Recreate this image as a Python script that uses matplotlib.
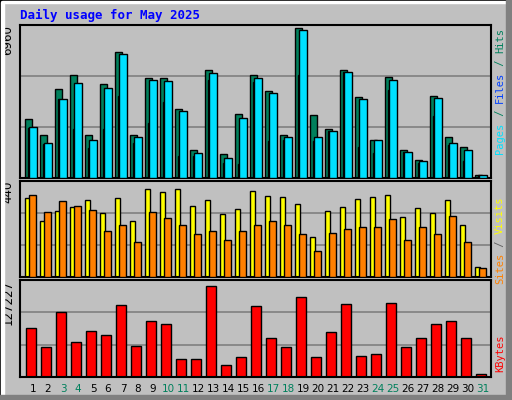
import matplotlib
matplotlib.use("Agg")
import matplotlib.pyplot as plt
from matplotlib.patches import Rectangle
import numpy as np

days = list(range(1, 32))
weekend = [3, 4, 10, 11, 17, 18, 24, 25, 31]
hits = [2690,1950,4080,4690,1950,4320,5750,1950,4590,4550,3160,1300,4960,1110,2920,4730,
        3990,1950,6870,2880,2230,4960,3710,1760,4640,1300,840,3760,1860,1440,140]
files = [2320,1580,3620,4360,1760,4130,5660,1860,4500,4450,3060,1160,4780,930,2740,4590,
         3900,1860,6770,1860,2130,4830,3620,1720,4500,1210,790,3670,1620,1300,130]
pages = [2300,1560,3600,2230,1390,2230,3760,1620,2510,3480,1020,1020,4500,700,650,4410,
         1670,1720,4730,1670,2130,4830,1440,1160,4040,1210,700,2830,1530,790,120]
visits = [367,257,305,323,358,296,367,261,406,393,406,327,358,292,314,397,
          375,371,336,186,305,323,362,371,380,279,318,296,358,243,45]
sites = [380,301,353,327,309,213,243,164,301,274,243,199,213,173,213,243,
         257,243,199,120,204,221,230,230,270,173,230,199,283,164,41]
kbytes = [67500,40300,88700,48000,62900,57500,98300,41700,76500,72400,24900,24900,124100,16800,27600,96900,
          53400,41200,109100,27600,61600,99600,29000,31700,101000,41200,53400,72400,76500,53400,4500]
max_hits, max_visits, max_kb = 6960, 440, 127227

BG = "#C0C0C0"
fig = plt.figure(figsize=(5.12, 4.0), dpi=100, facecolor=BG)
fig.patches.append(Rectangle((0, 0), 1, 1, transform=fig.transFigure, fill=False, ec="black", lw=1.5))
fig.patches.append(Rectangle((0.004, 0.992), 0.99, 0.006, transform=fig.transFigure, color="white"))
fig.patches.append(Rectangle((0.002, 0.01), 0.006, 0.985, transform=fig.transFigure, color="white"))
fig.patches.append(Rectangle((0.0, 0.0), 1, 0.012, transform=fig.transFigure, color="#808080"))
fig.patches.append(Rectangle((0.988, 0.0), 0.012, 1, transform=fig.transFigure, color="#808080"))

fig.text(20/512, 1-15/400, "Daily usage for May 2025", color="#0000FF", fontsize=9,
         family="DejaVu Sans Mono", weight="bold", va="center", ha="left")

L, W = 20/512, 471/512
axes_pos = [(1-178/400, 153/400), (1-277/400, 96/400), (1-377/400, 97/400)]
x = np.arange(31)

def setup(ax, top, label):
    ax.set_facecolor(BG)
    ax.set_xlim(0, 31.4)
    ax.set_ylim(0, top)
    ax.set_xticks([]); ax.set_yticks([])
    for v in (top/3, 2*top/3):
        ax.axhline(v, color="#808080", lw=1.2, zorder=0)
    for s in ax.spines.values():
        s.set_color("black"); s.set_linewidth(1.5)
    ax.text(-0.012, 1.0, label, transform=ax.transAxes, rotation=90, ha="right", va="top",
            fontsize=8.5, family="DejaVu Sans")

kw = dict(align="edge", edgecolor="black", linewidth=1)
ax1 = fig.add_axes([L, axes_pos[0][0], W, axes_pos[0][1]])
setup(ax1, max_hits*1.005, "6960")
ax1.bar(x+0.33, hits, 0.47, color="#00805C", zorder=2, **kw)
ax1.bar(x+0.5, pages, 0.12, color="#0040FF", zorder=3, **kw)
ax1.bar(x+0.6, files, 0.53, color="#00E0FF", zorder=4, **kw)

ax2 = fig.add_axes([L, axes_pos[1][0], W, axes_pos[1][1]])
setup(ax2, max_visits*1.01, "440")
ax2.bar(x+0.35, visits, 0.3, color="#FFFF00", zorder=2, **kw)
ax2.bar(x+0.62, sites, 0.47, color="#FF8000", zorder=3, **kw)

ax3 = fig.add_axes([L, axes_pos[2][0], W, axes_pos[2][1]])
setup(ax3, max_kb*1.04, "127227")
ax3.bar(x+0.42, kbytes, 0.67, color="#FF0000", zorder=2, **kw)
for i, d in enumerate(days):
    ax3.text(i+0.87, -0.07, str(d), transform=ax3.get_xaxis_transform(), ha="center", va="top",
             fontsize=7.5, color="#00805C" if d in weekend else "black")

CH = 6.3 / 400  # char advance for 7.5pt mono at 100 dpi, in figure fraction

def right_label(parts, ytop):
    y = ytop
    for txt, col in parts:
        fig.text(500/512, y, txt.replace(" ", "\u00a0"), rotation=90, color=col, fontsize=7.5,
                 family="DejaVu Sans Mono", ha="center", va="top")
        y -= len(txt) * CH

right_label([("Hits", "#00805C"), (" / ", "#00805C"), ("Files", "#0040FF"),
             (" / ", "#00805C"), ("Pages", "#00E0FF")], 1-28/400)
right_label([("Visits", "#FFFF00"), (" / ", "#606060"), ("Sites", "#FF8000")], 1-196/400)
right_label([("KBytes", "#FF0000")], 1-335/400)

fig.savefig("out.png", dpi=100, facecolor=BG)
